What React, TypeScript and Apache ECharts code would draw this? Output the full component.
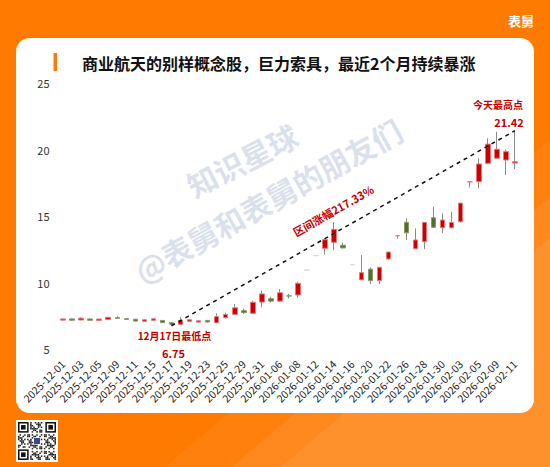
import React, { useEffect, useRef } from 'react';
import * as echarts from 'echarts';

const dates = [
  '2025-12-01','2025-12-02','2025-12-03','2025-12-04','2025-12-05','2025-12-08','2025-12-09','2025-12-10','2025-12-11','2025-12-12',
  '2025-12-15','2025-12-16','2025-12-17','2025-12-18','2025-12-19','2025-12-22','2025-12-23','2025-12-24','2025-12-25','2025-12-26',
  '2025-12-29','2025-12-30','2025-12-31','2026-01-05','2026-01-06','2026-01-07','2026-01-08','2026-01-09','2026-01-12','2026-01-13',
  '2026-01-14','2026-01-15','2026-01-16','2026-01-19','2026-01-20','2026-01-21','2026-01-22','2026-01-23','2026-01-26','2026-01-27',
  '2026-01-28','2026-01-29','2026-01-30','2026-02-02','2026-02-03','2026-02-04','2026-02-05','2026-02-06','2026-02-09','2026-02-10',
  '2026-02-11'
];
const opens = [
  7.17,7.26,7.18,7.26,7.15,7.22,7.36,7.28,7.24,7.08,
  7.15,7.15,6.98,6.85,7.08,7.02,7.15,6.98,7.35,7.60,
  7.88,7.68,8.53,8.78,8.60,9.00,9.06,10.93,12.02,12.57,
  13.02,12.80,11.34,10.20,11.00,10.14,11.77,13.52,14.52,12.54,
  13.07,14.87,14.12,14.12,14.57,17.57,17.58,18.96,19.34,19.21,
  18.98
];
const closes = [
  7.26,7.16,7.32,7.16,7.25,7.38,7.30,7.22,7.10,7.20,
  7.27,6.98,6.86,7.14,7.20,7.12,7.03,7.43,7.60,8.10,
  7.73,8.51,9.14,8.60,9.23,8.98,9.94,10.93,12.02,13.22,
  14.00,12.60,11.34,10.74,10.14,11.14,12.29,13.52,13.74,13.20,
  14.52,14.15,14.70,14.52,15.97,17.57,18.91,20.41,20.02,19.84,
  19.08
];
const lows = [
  7.15,7.14,7.16,7.13,7.13,7.20,7.27,7.18,7.08,7.06,
  7.13,6.96,6.75,6.80,7.05,7.00,7.00,6.95,7.32,7.55,
  7.63,7.65,8.13,8.51,8.55,8.80,8.86,10.93,12.02,12.10,
  12.44,12.55,11.34,10.20,9.89,9.89,11.72,13.30,13.20,12.50,
  12.50,14.10,13.70,14.10,14.50,17.15,17.08,18.90,19.30,18.08,
  18.53
];
const highs = [
  7.28,7.28,7.36,7.28,7.27,7.42,7.46,7.31,7.26,7.23,
  7.30,7.17,7.00,7.38,7.24,7.15,7.17,7.68,7.73,8.38,
  8.03,8.63,9.38,8.93,9.50,9.14,10.06,10.93,12.02,13.25,
  14.54,12.99,11.34,12.07,11.14,11.14,12.30,13.52,14.82,14.07,
  14.55,15.70,15.20,15.32,15.97,17.57,19.34,20.84,21.34,20.00,
  21.42
];
const faintDays = ['2026-01-09', '2026-01-12', '2026-01-16'];

const yTicks = [5, 10, 15, 20, 25];
const LOW_DATE = '2025-12-17';
const LOW_VALUE = 6.75;
const HIGH_DATE = '2026-02-11';
const HIGH_VALUE = 21.42;
const GAIN_TEXT = '区间涨幅217.33%';
const LOW_TEXT = '12月17日最低点';
const HIGH_TEXT = '今天最高点';
const TITLE = '商业航天的别样概念股，巨力索具，最近2个月持续暴涨';
const BRAND = '表舅';
const WM1 = '知识星球';
const WM2 = '@表舅和表舅的朋友们';

const FONT = "'Noto Sans CJK SC', 'Noto Sans', sans-serif";
const RED = '#cc0000';
const OLIVE = '#556b2f';
const ORANGE = '#ff7a00';
const ANN = '#c00000';

function qrElements(x0: number, y0: number, size: number) {
  const n = 25;
  const m = size / n;
  const els: any[] = [];
  els.push({ type: 'rect', z: 5, shape: { x: x0 - 2, y: y0 - 2, width: size + 4, height: size + 4 }, style: { fill: '#fff' } });
  const finder = (fx: number, fy: number) => {
    els.push({ type: 'rect', z: 6, shape: { x: x0 + fx * m, y: y0 + fy * m, width: 7 * m, height: 7 * m }, style: { fill: '#111' } });
    els.push({ type: 'rect', z: 6, shape: { x: x0 + (fx + 1) * m, y: y0 + (fy + 1) * m, width: 5 * m, height: 5 * m }, style: { fill: '#fff' } });
    els.push({ type: 'rect', z: 6, shape: { x: x0 + (fx + 2) * m, y: y0 + (fy + 2) * m, width: 3 * m, height: 3 * m }, style: { fill: '#111' } });
  };
  for (let i = 0; i < n; i++) {
    for (let j = 0; j < n; j++) {
      const inF = (i < 8 && j < 8) || (i < 8 && j >= n - 8) || (i >= n - 8 && j < 8);
      const inC = i >= 10 && i <= 14 && j >= 10 && j <= 14;
      if (inF || inC) continue;
      if ((i * 31 + j * 17 + i * j * 7) % 11 < 5) {
        els.push({ type: 'rect', z: 6, shape: { x: x0 + j * m, y: y0 + i * m, width: m, height: m }, style: { fill: '#222' } });
      }
    }
  }
  finder(0, 0);
  finder(n - 7, 0);
  finder(0, n - 7);
  els.push({ type: 'rect', z: 6, shape: { x: x0 + 10.5 * m, y: y0 + 10.5 * m, width: 4 * m, height: 4 * m }, style: { fill: '#3a4a8a' } });
  return els;
}

export default function App() {
  const ref = useRef<HTMLDivElement>(null);
  useEffect(() => {
    if (!ref.current) return;
    const chart = echarts.init(ref.current, undefined, { renderer: 'svg' });

    const wickData = dates.map((d, i) => [opens[i], closes[i], lows[i], highs[i]]);
    const bodyData = dates.map((d, i) => {
      const o = opens[i];
      const c = closes[i];
      const item: any = { value: [o, c, Math.min(o, c), Math.max(o, c)] };
      if (faintDays.includes(d)) {
        item.itemStyle = { borderColor: '#ddd6cf', borderColor0: '#ddd6cf', color: '#ddd6cf', color0: '#ddd6cf' };
      }
      return item;
    });

    const option: any = {
      animation: false,
      backgroundColor: ORANGE,
      textStyle: { fontFamily: FONT },
      grid: { left: 58.5, right: 30.5, top: 83, bottom: 118, containLabel: false },
      xAxis: {
        type: 'category',
        data: dates,
        boundaryGap: true,
        axisLine: { show: false },
        axisTick: { show: false },
        splitLine: { show: false },
        axisLabel: { rotate: 45, interval: 1, fontSize: 10.5, color: '#222', margin: 13, fontFamily: FONT },
      },
      yAxis: {
        type: 'value',
        min: yTicks[0],
        max: yTicks[yTicks.length - 1],
        interval: 5,
        axisLine: { show: false },
        axisTick: { show: false },
        splitLine: { show: false },
        axisLabel: { fontSize: 11, color: '#333', margin: 9, fontFamily: FONT },
      },
      graphic: [
        { type: 'polygon', z: -5, shape: { points: [[165, 467], [550, 140], [550, 467]] }, style: { fill: 'rgba(255,255,255,0.05)' } },
        { type: 'polygon', z: -5, shape: { points: [[232, 467], [550, 197], [550, 467]] }, style: { fill: 'rgba(255,255,255,0.07)' } },
        { type: 'polygon', z: -5, shape: { points: [[281, 467], [550, 238], [550, 467]] }, style: { fill: 'rgba(255,255,255,0.07)' } },
        { type: 'rect', z: -4, shape: { x: 16, y: 38, width: 518, height: 375, r: 14 }, style: { fill: '#ffffff' } },
        { type: 'rect', z: 5, shape: { x: 53.5, y: 53, width: 3.5, height: 18 }, style: { fill: ORANGE } },
        {
          type: 'text', z: 5, x: 82, y: 63,
          style: { text: TITLE, fill: '#111', fontSize: 16, fontWeight: 'bold', fontFamily: FONT, textAlign: 'left', textVerticalAlign: 'middle', align: 'left', verticalAlign: 'middle' },
        },
        {
          type: 'text', z: 5, x: 534, y: 20,
          style: { text: BRAND, fill: '#fff', fontSize: 13, fontWeight: 'bold', fontFamily: FONT, textAlign: 'right', textVerticalAlign: 'middle', align: 'right', verticalAlign: 'middle' },
        },
        {
          type: 'text', z: -3, x: 242, y: 160, rotation: (27 * Math.PI) / 180,
          style: { text: WM1, fill: 'rgba(196,205,224,0.6)', fontSize: 30, fontWeight: 'bold', fontFamily: FONT, textAlign: 'center', textVerticalAlign: 'middle', align: 'center', verticalAlign: 'middle' },
        },
        {
          type: 'text', z: -3, x: 268, y: 200, rotation: (29 * Math.PI) / 180,
          style: { text: WM2, fill: 'rgba(196,205,224,0.6)', fontSize: 30, fontWeight: 'bold', fontFamily: FONT, textAlign: 'center', textVerticalAlign: 'middle', align: 'center', verticalAlign: 'middle' },
        },
        ...qrElements(18, 422, 38),
      ],
      series: [
        {
          name: 'wick',
          type: 'candlestick',
          data: wickData,
          barWidth: 1,
          silent: true,
          itemStyle: { color: '#8c8c8c', color0: '#8c8c8c', borderColor: '#8c8c8c', borderColor0: '#8c8c8c', borderWidth: 1 },
        },
        {
          name: 'body',
          type: 'candlestick',
          data: bodyData,
          barWidth: 5,
          silent: true,
          itemStyle: { color: RED, color0: OLIVE, borderColor: '#e67878', borderColor0: '#8a9a66', borderWidth: 1 },
          markLine: {
            silent: true,
            symbol: ['none', 'arrow'],
            symbolSize: [0, 9],
            lineStyle: { color: '#111', type: [4, 4], width: 1.5 },
            label: { show: true, position: 'middle', formatter: GAIN_TEXT, color: ANN, fontWeight: 'bold', fontSize: 11, distance: 15, fontFamily: FONT },
            data: [[{ coord: [LOW_DATE, LOW_VALUE] }, { coord: [HIGH_DATE, HIGH_VALUE] }]],
          },
          markPoint: {
            silent: true,
            symbol: 'circle',
            symbolSize: 0,
            label: { show: true, position: 'inside', color: ANN, fontWeight: 'bold', fontSize: 10, fontFamily: FONT },
            data: [
              { coord: [LOW_DATE, LOW_VALUE], label: { formatter: LOW_TEXT, offset: [3, 10] } },
              { coord: [LOW_DATE, LOW_VALUE], label: { formatter: String(LOW_VALUE), offset: [2, 27], fontSize: 11 } },
              { coord: [HIGH_DATE, HIGH_VALUE], label: { formatter: HIGH_TEXT, offset: [-17, -26] } },
              { coord: [HIGH_DATE, HIGH_VALUE], label: { formatter: String(HIGH_VALUE), offset: [-6, -9], fontSize: 11 } },
            ],
          },
        },
      ],
    };
    chart.setOption(option);
    return () => chart.dispose();
  }, []);
  return <div ref={ref} style={{ position: 'fixed', left: 0, top: 0, width: 550, height: 467 }} />;
}
